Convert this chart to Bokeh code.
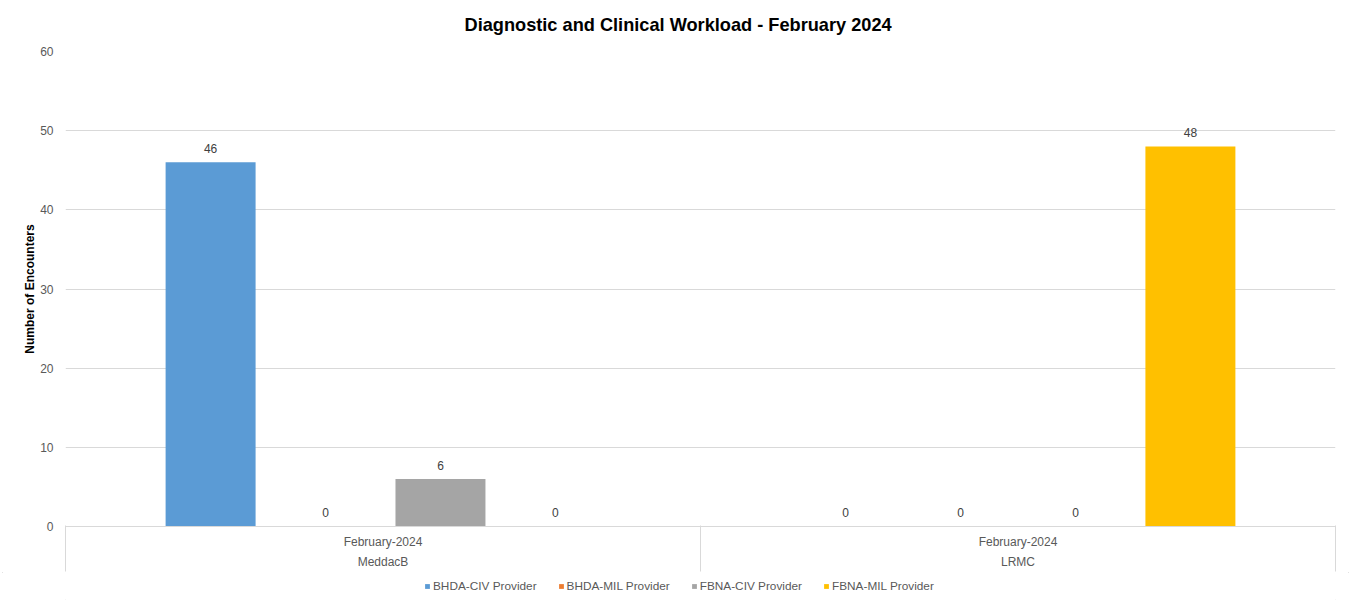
from bokeh.plotting import figure
from bokeh.layouts import column
from bokeh.models import (Range1d, LinearAxis, FixedTicker, Legend, LegendItem,
                          ColumnDataSource)
from bokeh.embed import file_html
from bokeh.resources import INLINE
from bokeh.core.properties import value

# ---- data ----
groups = ["MeddacB", "LRMC"]
periods = ["February-2024", "February-2024"]
series_names = ["BHDA-CIV Provider", "BHDA-MIL Provider", "FBNA-CIV Provider", "FBNA-MIL Provider"]
bhda_civ = [46, 0]
bhda_mil = [0, 0]
fbna_civ = [6, 0]
fbna_mil = [0, 48]
y_ticks = [0, 10, 20, 30, 40, 50, 60]

series_values = [bhda_civ, bhda_mil, fbna_civ, fbna_mil]
colors = ["#5B9BD5", "#ED7D31", "#A5A5A5", "#FFC000"]

FONT = "Liberation Sans"
GRAY = "#595959"
LINE = "#D9D9D9"

n_groups = len(groups)
n_series = len(series_names)
step = 0.181      # spacing between bars within a group (group units)
bar_w = 0.1417    # bar width (group units)

p = figure(width=1351, height=572,
           x_range=Range1d(0, n_groups), y_range=Range1d(y_ticks[0], y_ticks[-1]),
           x_axis_type=None, output_backend="svg", toolbar_location=None,
           min_border_left=65, min_border_right=16, min_border_top=50, min_border_bottom=46)
p.outline_line_color = None
p.background_fill_color = "white"

# title
p.title.text = "Diagnostic and Clinical Workload - February 2024"
p.title.text_font = FONT
p.title.text_font_size = "18.2px"
p.title.text_font_style = "bold"
p.title.text_color = "#000000"
p.title.align = "left"
p.title.offset = 399
p.title.vertical_align = "top"
p.title.standoff = 29

# y axis
yax = p.yaxis[0]
yax.ticker = FixedTicker(ticks=y_ticks, minor_ticks=[])
yax.axis_line_color = None
yax.major_tick_line_color = None
yax.minor_tick_line_color = None
yax.major_tick_in = 0
yax.major_tick_out = 0
yax.major_label_standoff = 12
yax.major_label_text_font = FONT
yax.major_label_text_font_size = "12px"
yax.major_label_text_color = GRAY
yax.axis_label = "Number of Encounters"
yax.axis_label_text_font = FONT
yax.axis_label_text_font_size = "12px"
yax.axis_label_text_font_style = "bold"
yax.axis_label_text_color = "#000000"
yax.axis_label_standoff = 0
p.ygrid.grid_line_color = LINE
p.ygrid.ticker = yax.ticker

# bars + labels
bar_sources = []
for k in range(n_series):
    xs = [g + 0.5 + (k - (n_series - 1) / 2) * step for g in range(n_groups)]
    vals = series_values[k]
    src = ColumnDataSource(dict(x=xs, top=vals, lab=[str(v) for v in vals]))
    bar_sources.append(src)
    p.vbar(x="x", top="top", width=bar_w, source=src,
           fill_color=colors[k], line_color=None)
    p.text(x="x", y="top", text="lab", source=src, text_align="center",
           text_baseline="alphabetic", y_offset=-14,
           text_font=value(FONT), text_font_size="12px", text_color="#404040")

# category axes (two label rows) with separators drawn as inward minor ticks
centers = [g + 0.5 for g in range(n_groups)]
edges = [float(g) for g in range(n_groups + 1)]

def style_labels(ax, standoff):
    ax.major_label_standoff = standoff
    ax.major_label_text_font = FONT
    ax.major_label_text_font_size = "12px"
    ax.major_label_text_color = GRAY
    ax.major_tick_in = 0
    ax.major_tick_out = 0
    ax.major_tick_line_color = None

ax1 = LinearAxis(ticker=FixedTicker(ticks=centers, minor_ticks=[]),
                 major_label_overrides={c: t for c, t in zip(centers, periods)})
style_labels(ax1, 8)
ax1.axis_line_color = LINE
ax1.minor_tick_line_color = None
ax1.minor_tick_in = 0
ax1.minor_tick_out = 0

ax2 = LinearAxis(ticker=FixedTicker(ticks=centers, minor_ticks=edges),
                 major_label_overrides={c: t for c, t in zip(centers, groups)})
style_labels(ax2, 3)
ax2.axis_line_color = None
ax2.minor_tick_line_color = LINE
ax2.minor_tick_in = 26
ax2.minor_tick_out = 0

ax3 = LinearAxis(ticker=FixedTicker(ticks=[], minor_ticks=edges),
                 major_label_text_font_size="0px")
ax3.axis_line_color = None
ax3.major_tick_line_color = None
ax3.major_tick_in = 0
ax3.major_tick_out = 0
ax3.major_label_standoff = 0
ax3.minor_tick_line_color = LINE
ax3.minor_tick_in = 21
ax3.minor_tick_out = 0

p.add_layout(ax1, "below")
p.add_layout(ax2, "below")
p.add_layout(ax3, "below")

# legend strip (separate small figure under the chart); its renderers are hidden
lf = figure(width=1351, height=30, x_range=Range1d(0, n_groups), y_range=Range1d(0, 1),
            x_axis_type=None, y_axis_type=None, output_backend="svg",
            toolbar_location=None, min_border=0)
lf.outline_line_color = None
lf.grid.visible = False
items = []
for name, col, src in zip(series_names, colors, bar_sources):
    r = lf.vbar(x="x", top="top", width=bar_w, source=src, fill_color=col, line_color=None)
    r.visible = False
    items.append(LegendItem(label=name, renderers=[r]))
legend = Legend(items=items, orientation="horizontal", location=(359, 9),
                glyph_width=6, glyph_height=6, label_standoff=3, spacing=21,
                padding=0, margin=0, border_line_color=None, background_fill_alpha=0,
                label_text_font=FONT, label_text_font_size="11.8px", label_text_color=GRAY,
                label_height=12, click_policy="none")
lf.add_layout(legend, "center")

layout = column(p, lf, spacing=0,
                styles={"outline": "1px solid #D9D9D9", "outline-offset": "-3px"})
open("out.html", "w").write(file_html(layout, INLINE))
